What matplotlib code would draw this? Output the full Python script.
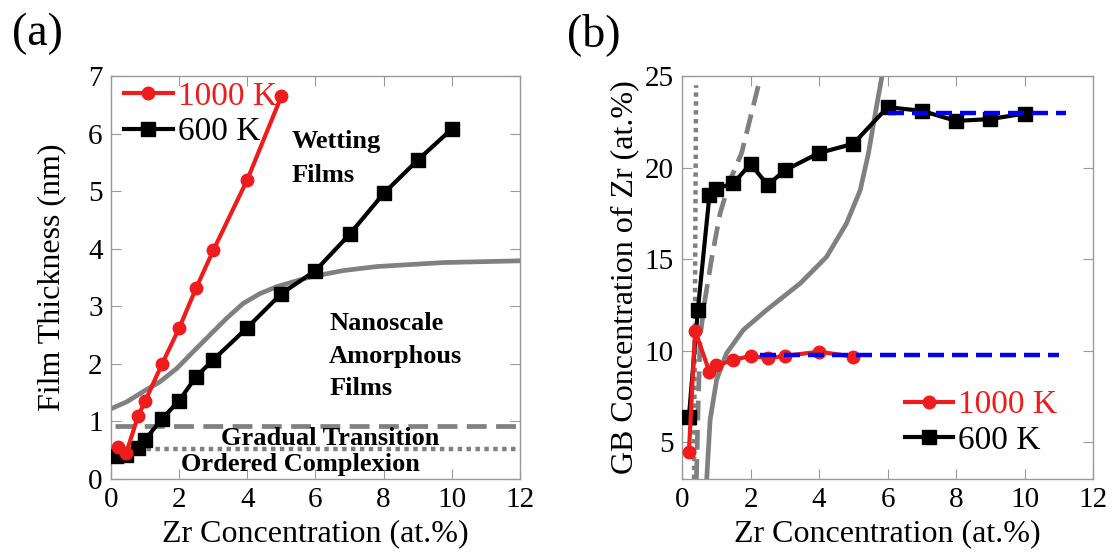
import matplotlib
matplotlib.use('Agg')
import matplotlib.pyplot as plt

plt.rcParams['font.family'] = ['Liberation Serif', 'DejaVu Serif']

RED = '#ee1c1c'
GRAY = '#808080'
BLUE = '#0000ee'

# ---- panel (a): film thickness ----
a_red_x = [0.2, 0.45, 0.8, 1.0, 1.5, 2.0, 2.5, 3.0, 4.0, 5.0]
a_red_y = [0.56, 0.46, 1.1, 1.35, 2.0, 2.62, 3.32, 3.97, 5.2, 6.65]
a_blk_x = [0.15, 0.45, 0.8, 1.0, 1.5, 2.0, 2.5, 3.0, 4.0, 5.0, 6.0, 7.0, 8.0, 9.0, 10.0]
a_blk_y = [0.4, 0.42, 0.54, 0.68, 1.05, 1.36, 1.78, 2.07, 2.63, 3.22, 3.62, 4.25, 4.96, 5.54, 6.08]
a_curve_x = [0.0, 0.46, 0.95, 1.44, 1.93, 2.41, 2.9, 3.39, 3.88, 4.37, 4.86, 5.84, 6.81, 7.79, 9.75, 12.0]
a_curve_y = [1.22, 1.34, 1.52, 1.69, 1.92, 2.21, 2.5, 2.79, 3.05, 3.22, 3.34, 3.51, 3.62, 3.69, 3.76, 3.79]
a_dash_y = 0.92
a_dot_y = 0.52

# ---- panel (b): GB concentration ----
b_red_x = [0.2, 0.38, 0.8, 1.0, 1.5, 2.0, 2.5, 3.0, 4.0, 5.0]
b_red_y = [4.45, 11.1, 8.85, 9.2, 9.5, 9.72, 9.6, 9.72, 9.95, 9.68]
b_blk_x = [0.2, 0.46, 0.8, 1.0, 1.5, 2.0, 2.5, 3.0, 4.0, 5.0, 6.0, 7.0, 8.0, 9.0, 10.0]
b_blk_y = [6.38, 12.2, 18.5, 18.85, 19.15, 20.2, 19.05, 19.85, 20.8, 21.3, 23.3, 23.1, 22.55, 22.65, 22.95]
b_solid_x = [0.72, 0.82, 1.01, 1.3, 1.79, 2.47, 3.45, 4.22, 4.8, 5.2, 5.44, 5.64, 5.83, 5.86]
b_solid_y = [3.0, 6.24, 8.42, 9.87, 11.14, 12.23, 13.68, 15.13, 16.95, 18.76, 20.76, 22.94, 24.93, 25.2]
b_dash_x = [0.42, 0.47, 0.53, 0.67, 0.87, 1.11, 1.4, 1.74, 2.23]
b_dash_y = [3.0, 7.0, 10.8, 12.8, 15.1, 17.5, 19.3, 20.8, 24.5]
b_dot_x = [0.35, 0.41]
b_dot_y = [3.0, 24.5]
b_blue_hi = ([6.0, 11.2], [23.0, 23.0])
b_blue_lo = ([2.28, 11.0], [9.75, 9.75])

fig = plt.figure(figsize=(11.13, 5.59), dpi=100)
ax1 = fig.add_axes([0.0997, 0.1431, 0.3675, 0.7209])
ax2 = fig.add_axes([0.6128, 0.1431, 0.3693, 0.7209])

for ax in (ax1, ax2):
    for s in ax.spines.values():
        s.set_color('#999999')
        s.set_linewidth(1.0)
    ax.tick_params(direction='in', top=True, right=True, length=7,
                   color='#999999', labelsize=21, pad=6)
    ax.set_xlim(0, 12)
    ax.set_xticks(range(0, 13, 2))
    ax.set_xlabel('Zr Concentration (at.%)', fontsize=23, labelpad=4)

# panel (a)
ax1.plot(a_curve_x, a_curve_y, color=GRAY, lw=3.4, zorder=2)
ax1.axhline(a_dash_y, xmin=0.01, xmax=1.01, color=GRAY, lw=3.4, ls=(0, (4.2, 2.0)),
            clip_on=False, zorder=2)
ax1.axhline(a_dot_y, color=GRAY, lw=3.2, ls=(0, (1, 1)), zorder=2)
ax1.plot(a_blk_x, a_blk_y, color='black', lw=3.0, marker='s', ms=10, zorder=3,
         label='600 K')
ax1.plot(a_red_x, a_red_y, color=RED, lw=3.0, marker='o', ms=9, zorder=4,
         label='1000 K')
ax1.set_ylim(0, 7)
ax1.set_yticks(range(0, 8))
ax1.set_ylabel('Film Thickness (nm)', fontsize=23, labelpad=16)

bold = dict(fontsize=19, fontweight='bold')
ax1.text(5.3, 5.86, 'Wetting', va='center', **bold)
ax1.text(5.3, 5.28, 'Films', va='center', **bold)
ax1.text(6.4, 2.7, 'Nanoscale', va='center', **bold)
ax1.text(6.4, 2.13, 'Amorphous', va='center', **bold)
ax1.text(6.4, 1.58, 'Films', va='center', **bold)
ax1.text(6.42, 0.7, 'Gradual Transition', ha='center', va='center', **bold)
ax1.text(5.55, 0.25, 'Ordered Complexion', ha='center', va='center', **bold)

h, l = ax1.get_legend_handles_labels()
leg1 = ax1.legend(h[::-1], l[::-1], loc='upper left', frameon=False, fontsize=24,
                  handlelength=1.45, handletextpad=0.15, borderaxespad=0.0,
                  labelspacing=0.15, bbox_to_anchor=(0.0, 1.02))
leg1.get_texts()[0].set_color(RED)

ax1.text(-0.242, 1.104, '(a)', transform=ax1.transAxes, fontsize=33,
         ha='left', va='center')

# panel (b)
ax2.plot(b_dot_x, b_dot_y, color=GRAY, lw=3.2, ls=(0, (1, 1)), zorder=2)
ax2.plot(b_dash_x, b_dash_y, color=GRAY, lw=3.4, ls=(0, (4.2, 2.0)), zorder=2)
ax2.plot(b_solid_x, b_solid_y, color=GRAY, lw=3.4, zorder=2)
ax2.plot(b_blk_x, b_blk_y, color='black', lw=3.0, marker='s', ms=10, zorder=3,
         label='600 K')
ax2.plot(b_red_x, b_red_y, color=RED, lw=3.0, marker='o', ms=9, zorder=4,
         label='1000 K')
ax2.plot(*b_blue_hi, color=BLUE, lw=3.2, ls=(0, (3.6, 1.8)), zorder=5)
ax2.plot(*b_blue_lo, color=BLUE, lw=3.2, ls=(0, (3.6, 1.8)), zorder=5)
ax2.set_ylim(3, 25)
ax2.set_yticks([5, 10, 15, 20, 25])
ax2.set_ylabel('GB Concentration of Zr (at.%)', fontsize=23, labelpad=4)

h, l = ax2.get_legend_handles_labels()
leg2 = ax2.legend(h[::-1], l[::-1], loc='lower right', frameon=False, fontsize=24,
                  handlelength=1.45, handletextpad=0.15, borderaxespad=0.3,
                  labelspacing=0.15, bbox_to_anchor=(0.97, 0.0))
leg2.get_texts()[0].set_color(RED)

ax2.text(-0.28, 1.104, '(b)', transform=ax2.transAxes, fontsize=33,
         ha='left', va='center')

fig.savefig('out.png', dpi=100)
